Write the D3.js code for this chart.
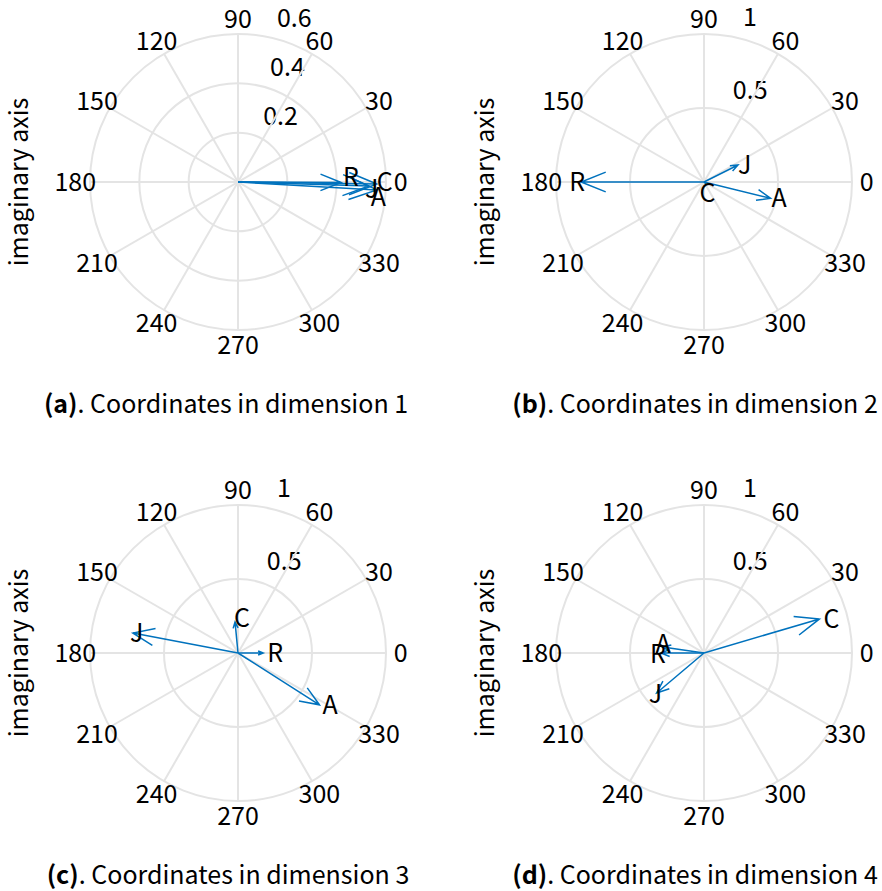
<!DOCTYPE html>
<html>
<head>
<meta charset="utf-8">
<script src="https://cdn.jsdelivr.net/npm/d3@7/dist/d3.min.js"></script>
<style>
  html, body { margin: 0; padding: 0; background: #fff; }
  svg { display: block; }
  text { font-family: "Noto Sans CJK JP", "Noto Sans", sans-serif; fill: #000; }
</style>
</head>
<body>
<svg id="chart" width="882" height="891"></svg>
<script>
// Vector names, in drawing order
const vectorNames = ["R", "J", "C", "A"];

// Complex coordinates (real, imaginary) per dimension
const dim1Real = [0.418, 0.531, 0.563, 0.563];
const dim1Imag = [-0.002, -0.016, -0.008, -0.032];

const dim2Real = [-0.83, 0.23, 0.01, 0.45];
const dim2Imag = [0.0, 0.115, -0.01, -0.11];

const dim3Real = [0.17, -0.71, -0.02, 0.55];
const dim3Imag = [0.0, 0.135, 0.21, -0.35];

const dim4Real = [-0.29, -0.32, 0.78, -0.28];
const dim4Imag = [0.0, -0.27, 0.23, 0.04];

// Radial tick values (last one is the outer ring)
const ringTicks1 = [0.2, 0.4, 0.6];
const ringTicksUnit = [0.5, 1];

// Angular tick labels (degrees)
const angleTicks = d3.range(0, 360, 30);

const panelTitles = [
  { tag: "(a)", rest: ". Coordinates in dimension 1" },
  { tag: "(b)", rest: ". Coordinates in dimension 2" },
  { tag: "(c)", rest: ". Coordinates in dimension 3" },
  { tag: "(d)", rest: ". Coordinates in dimension 4" }
];

const yAxisTitle = "imaginary axis";

// ---- layout ----
const R = 148;
const FONT = 25;
const MID = -2; // optical correction for vertically centred text
const gridColor = "#e4e4e4";
const arrowColor = "#0072BD";

const panels = [
  { cx: 238, cy: 182, re: dim1Real, im: dim1Imag, rings: ringTicks1, title: panelTitles[0], titleDx: -12,
    nudge: [[2, -5], [-4, 3], [0, -2], [-6, 7]] },
  { cx: 704, cy: 182, re: dim2Real, im: dim2Imag, rings: ringTicksUnit, title: panelTitles[1], titleDx: -9,
    nudge: [[-12, 0], [0, 0], [-6, 10], [1, 0]] },
  { cx: 238, cy: 653, re: dim3Real, im: dim3Imag, rings: ringTicksUnit, title: panelTitles[2], titleDx: -10,
    nudge: [[4, 0], [-3, 0], [-1, -4], [3, 0]] },
  { cx: 704, cy: 653, re: dim4Real, im: dim4Imag, rings: ringTicksUnit, title: panelTitles[3], titleDx: -9,
    nudge: [[-11, 1], [-8, 1], [4, 0], [-7, -3]] }
];

const svg = d3.select("#chart");

panels.forEach(p => {
  const rmax = p.rings[p.rings.length - 1];
  const rinc = p.rings[0];
  const x = d3.scaleLinear().domain([-rmax, rmax]).range([p.cx - R, p.cx + R]);
  const y = d3.scaleLinear().domain([-rmax, rmax]).range([p.cy + R, p.cy - R]);
  const r = d3.scaleLinear().domain([0, rmax]).range([0, R]);
  const rad = d => d * Math.PI / 180;

  const g = svg.append("g");

  // range rings
  g.selectAll("circle.ring").data(p.rings).join("circle")
    .attr("class", "ring")
    .attr("cx", x(0)).attr("cy", y(0))
    .attr("r", d => r(d))
    .attr("fill", "none").attr("stroke", gridColor).attr("stroke-width", 2);

  // radial tick labels along 82 degrees
  const c82 = Math.cos(rad(82)), s82 = Math.sin(rad(82));
  g.selectAll("text.rtick").data(p.rings).join("text")
    .attr("class", "rtick")
    .attr("x", d => x((d + rinc / 20) * c82) + 18)
    .attr("y", d => y((d + rinc / 20) * s82) - 6)
    .attr("font-size", FONT)
    .text(d => d3.format("~g")(d));

  // spokes every 30 degrees
  g.selectAll("line.spoke").data(d3.range(0, 180, 30)).join("line")
    .attr("class", "spoke")
    .attr("x1", d => x(rmax * Math.cos(rad(d)))).attr("y1", d => y(rmax * Math.sin(rad(d))))
    .attr("x2", d => x(-rmax * Math.cos(rad(d)))).attr("y2", d => y(-rmax * Math.sin(rad(d))))
    .attr("stroke", gridColor).attr("stroke-width", 2);

  // angle labels
  g.selectAll("text.atick").data(angleTicks).join("text")
    .attr("class", "atick")
    .attr("x", d => x(1.1 * rmax * Math.cos(rad(d))))
    .attr("y", d => y(1.1 * rmax * Math.sin(rad(d))) + MID)
    .attr("text-anchor", "middle")
    .attr("dominant-baseline", "central")
    .attr("font-size", FONT)
    .text(d => d);

  // compass arrows: shaft plus two barbs at 0.8 of length, +/-0.08 across
  const vecs = vectorNames.map((name, i) => ({ name, re: p.re[i], im: p.im[i], nudge: p.nudge[i] }));
  const arrowPts = v => {
    const pts = [[0, 0], [1, 0], [0.8, 0.08], [1, 0], [0.8, -0.08]];
    return pts.map(([a, b]) => [a * v.re - b * v.im, a * v.im + b * v.re]);
  };
  const line = d3.line().x(d => x(d[0])).y(d => y(d[1]));
  g.selectAll("path.vec").data(vecs).join("path")
    .attr("class", "vec")
    .attr("d", v => line(arrowPts(v)))
    .attr("fill", "none").attr("stroke", arrowColor).attr("stroke-width", 1.5)
    .attr("stroke-linejoin", "miter");

  // vector names at the tips
  g.selectAll("text.vlabel").data(vecs).join("text")
    .attr("class", "vlabel")
    .attr("x", v => x(v.re) + v.nudge[0])
    .attr("y", v => y(v.im) + v.nudge[1] + MID)
    .attr("dominant-baseline", "central")
    .attr("font-size", FONT)
    .text(v => v.name);

  // y axis title
  g.append("text")
    .attr("transform", `translate(${p.cx - 221},${p.cy}) rotate(-90)`)
    .attr("text-anchor", "middle")
    .attr("dominant-baseline", "central")
    .attr("font-size", FONT)
    .text(yAxisTitle);

  // panel caption
  const t = g.append("text")
    .attr("x", p.cx + p.titleDx)
    .attr("y", p.cy + 231)
    .attr("text-anchor", "middle")
    .attr("font-size", FONT);
  t.append("tspan").attr("font-weight", "bold").text(p.title.tag);
  t.append("tspan").text(p.title.rest);
});
</script>
</body>
</html>
